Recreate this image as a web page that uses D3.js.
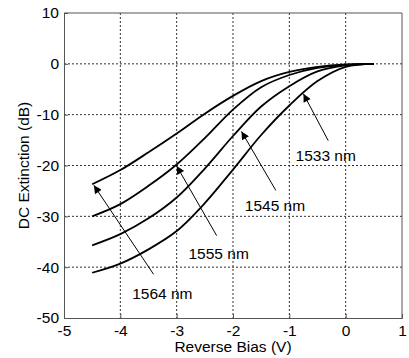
<!DOCTYPE html>
<html>
<head>
<meta charset="utf-8">
<script src="https://cdn.jsdelivr.net/npm/d3@7"></script>
<style>
  body { margin: 0; background: #fff; }
  text { font-family: Arial, "Liberation Sans", sans-serif; fill: #000; }
</style>
</head>
<body>
<svg id="chart"></svg>
<script>
// bias points (V) shared by every curve
const bias = [-4.5, -4, -3.5, -3, -2.5, -2, -1.5, -1, -0.5, 0, 0.5];

// DC extinction (dB) per wavelength
const ext1564 = [-23.7, -20.9, -17.4, -13.7, -9.8, -6.3, -3.4, -1.6, -0.6, -0.1, 0];
const ext1555 = [-30.0, -27.6, -24.0, -19.8, -14.6, -9.0, -4.6, -2.2, -0.8, -0.2, 0];
const ext1545 = [-35.7, -33.5, -30.4, -26.3, -20.6, -14.2, -8.4, -4.4, -1.5, -0.3, 0];
const ext1533 = [-41.1, -39.3, -36.5, -32.9, -27.4, -20.8, -14.0, -8.2, -3.4, -0.6, 0];

const xTicks = [-5, -4, -3, -2, -1, 0, 1];
const yTicks = [10, 0, -10, -20, -30, -40, -50];

// annotation labels: text anchor point, arrow tail, arrow tip (data units)
const labels = ['1564 nm', '1555 nm', '1545 nm', '1533 nm'];
const labelPos = [[-3.79, -45.2], [-2.79, -37.3], [-1.79, -27.8], [-0.89, -18.1]];
const arrowTail = [[-3.41, -41.4], [-2.29, -33.8], [-1.24, -24.9], [-0.31, -15.1]];
const arrowTip = [[-4.47, -23.9], [-3.0, -20.1], [-1.85, -13.3], [-0.75, -5.9]];

const W = 409, H = 358;
const margin = { top: 13, right: 7, bottom: 40, left: 64 };
const w = W - margin.left - margin.right,
  h = H - margin.top - margin.bottom;

const svg = d3.select('#chart').attr('width', W).attr('height', H);

svg.append('defs')
  .append('marker')
  .attr('id', 'head')
  .attr('viewBox', '0 0 10 10')
  .attr('refX', 10)
  .attr('refY', 5)
  .attr('markerWidth', 10)
  .attr('markerHeight', 8)
  .attr('markerUnits', 'userSpaceOnUse')
  .attr('orient', 'auto')
  .append('path')
  .attr('d', 'M0,0 L10,5 L0,10 Z')
  .attr('fill', '#000');

const g = svg.append('g').attr('transform', `translate(${margin.left},${margin.top})`);

const x = d3.scaleLinear().domain([-5, 1]).range([0, w]);
const y = d3.scaleLinear().domain([-50, 10]).range([h, 0]);

// dotted grid
g.append('g')
  .selectAll('line.vg')
  .data(xTicks.slice(1, -1))
  .enter()
  .append('line')
  .attr('x1', (d) => x(d))
  .attr('x2', (d) => x(d))
  .attr('y1', 0)
  .attr('y2', h)
  .attr('stroke', '#333')
  .attr('stroke-dasharray', '2,2');

g.append('g')
  .selectAll('line.hg')
  .data(yTicks.slice(1, -1))
  .enter()
  .append('line')
  .attr('x1', 0)
  .attr('x2', w)
  .attr('y1', (d) => y(d))
  .attr('y2', (d) => y(d))
  .attr('stroke', '#333')
  .attr('stroke-dasharray', '2,2');

// axes
const xAxis = g.append('g')
  .attr('transform', `translate(0,${h})`)
  .call(d3.axisBottom(x).tickValues(xTicks).tickSize(-4).tickPadding(7).tickFormat((d) => String(d)));
const yAxis = g.append('g')
  .call(d3.axisLeft(y).tickValues(yTicks).tickSize(-4).tickPadding(5).tickFormat((d) => String(d)));

[xAxis, yAxis].forEach((a) => {
  a.select('.domain').attr('stroke', '#555');
  a.selectAll('.tick line').attr('stroke', '#555');
  a.selectAll('.tick text').style('font-size', '15.5px').attr('fill', '#000');
});

// box top + right
g.append('line').attr('x1', 0).attr('x2', w).attr('y1', 0).attr('y2', 0).attr('stroke', '#555');
g.append('line').attr('x1', w).attr('x2', w).attr('y1', 0).attr('y2', h).attr('stroke', '#555');

// curves
const line = d3.line()
  .x((d) => x(d[0]))
  .y((d) => y(d[1]))
  .curve(d3.curveCatmullRom);

[ext1564, ext1555, ext1545, ext1533].forEach((s) => {
  g.append('path')
    .datum(bias.map((b, i) => [b, s[i]]))
    .attr('d', line)
    .attr('fill', 'none')
    .attr('stroke', '#000')
    .attr('stroke-width', 1.8);
});

// arrows + labels
labels.forEach((t, i) => {
  g.append('line')
    .attr('x1', x(arrowTail[i][0]))
    .attr('y1', y(arrowTail[i][1]))
    .attr('x2', x(arrowTip[i][0]))
    .attr('y2', y(arrowTip[i][1]))
    .attr('stroke', '#000')
    .attr('stroke-width', 1)
    .attr('marker-end', 'url(#head)');

  g.append('text')
    .attr('x', x(labelPos[i][0]))
    .attr('y', y(labelPos[i][1]))
    .attr('dy', '0.35em')
    .style('font-size', '15.5px')
    .text(t);
});

// axis titles
svg.append('text')
  .attr('x', margin.left + x(-2))
  .attr('y', 352)
  .attr('text-anchor', 'middle')
  .style('font-size', '15.5px')
  .text('Reverse Bias (V)');

svg.append('text')
  .attr('transform', `translate(29,${margin.top + y(-20)}) rotate(-90)`)
  .attr('text-anchor', 'middle')
  .style('font-size', '15.5px')
  .text('DC Extinction (dB)');
</script>
</body>
</html>
